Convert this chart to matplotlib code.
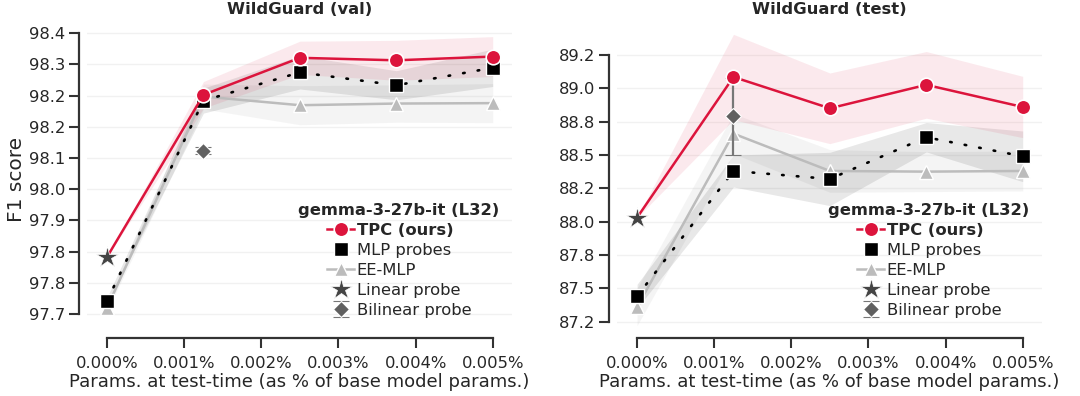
import matplotlib
matplotlib.use("Agg")
import matplotlib.pyplot as plt
from matplotlib.lines import Line2D

plt.rcParams['font.family'] = ['DejaVu Sans']
plt.rcParams['font.size'] = 11.8
plt.rcParams['text.color'] = '#262626'
plt.rcParams['axes.labelcolor'] = '#262626'
plt.rcParams['xtick.color'] = '#333333'
plt.rcParams['ytick.color'] = '#333333'
plt.rcParams['xtick.labelcolor'] = '#262626'
plt.rcParams['ytick.labelcolor'] = '#262626'

# params at test-time, % of base model params
x_pct = [0.0, 0.00125, 0.0025, 0.00375, 0.005]
x_ticks = [0.0, 0.001, 0.002, 0.003, 0.004, 0.005]

# WildGuard (val)
tpc_val = [97.837, 98.227, 98.316, 98.310, 98.319]
tpc_val_sd = [0.0, 0.032, 0.040, 0.048, 0.048]
mlp_val = [97.732, 98.213, 98.281, 98.250, 98.292]
mlp_val_sd = [0.008, 0.030, 0.040, 0.035, 0.045]
ee_val = [97.715, 98.223, 98.202, 98.206, 98.207]
ee_val_sd = [0.008, 0.030, 0.047, 0.045, 0.047]
linear_val = 97.837
bilinear_val = 98.093
bilinear_val_err = 0.008
val_yticks = [97.7, 97.775, 97.85, 97.925, 98.0, 98.075, 98.15, 98.225, 98.3, 98.375]
val_ylabels = ["97.7", "97.8", "97.8", "97.9", "98.0", "98.1", "98.2", "98.2", "98.3", "98.4"]

# WildGuard (test)
tpc_test = [88.03, 89.085, 88.85, 89.026, 88.86]
tpc_test_sd = [0.0, 0.32, 0.265, 0.25, 0.23]
mlp_test = [87.44, 88.38, 88.32, 88.633, 88.49]
mlp_test_sd = [0.09, 0.12, 0.20, 0.11, 0.19]
ee_test = [87.36, 88.66, 88.38, 88.375, 88.38]
ee_test_sd = [0.14, 0.15, 0.16, 0.15, 0.15]
linear_test = 88.03
bilinear_test = 88.79
bilinear_test_err = 0.29
test_yticks = [87.25, 87.5, 87.75, 88.0, 88.25, 88.5, 88.75, 89.0, 89.25]
test_ylabels = ["87.2", "87.5", "87.8", "88.0", "88.2", "88.5", "88.8", "89.0", "89.2"]

RED = '#dc143c'
EE_GRAY = '#bcbcbc'

fig = plt.figure(figsize=(10.8, 3.96), dpi=100)
ax1 = fig.add_axes([87/1080, 1-330/396, 425/1080, 302/396])
ax2 = fig.add_axes([617/1080, 1-330/396, 425/1080, 302/396])


def draw(ax, tpc, tpc_sd, mlp, mlp_sd, ee, ee_sd, lin, bil, bil_err, yticks, ylabels, ylim, title):
    lo = lambda v, s: [a - b for a, b in zip(v, s)]
    hi = lambda v, s: [a + b for a, b in zip(v, s)]
    ax.fill_between(x_pct, lo(ee, ee_sd), hi(ee, ee_sd), color='#999999', alpha=0.1, lw=0, zorder=1)
    ax.fill_between(x_pct, lo(mlp, mlp_sd), hi(mlp, mlp_sd), color='black', alpha=0.09, lw=0, zorder=1)
    ax.fill_between(x_pct, lo(tpc, tpc_sd), hi(tpc, tpc_sd), color=RED, alpha=0.09, lw=0, zorder=1)

    ee_line, = ax.plot(x_pct, ee, color=EE_GRAY, lw=1.8, marker='^', ms=10,
                       mfc=EE_GRAY, mec='white', mew=1.0, zorder=3)
    ax.plot(x_pct, mlp, color='black', lw=1.9, ls=(0, (0.6, 5.0)), marker='s', ms=9.5,
            mfc='black', mec='white', mew=1.0, zorder=4, dash_capstyle='round')
    bil_h = ax.errorbar([x_pct[1]], [bil], yerr=[bil_err], fmt='D', ms=8.5, color='#606060',
                        ecolor='#777777', elinewidth=1.6, capsize=6, capthick=1.6,
                        mec='white', mew=0.8, zorder=5)
    tpc_line, = ax.plot(x_pct, tpc, color=RED, lw=1.8, marker='o', ms=10.5,
                        mfc=RED, mec='white', mew=1.2, zorder=6, markevery=[1, 2, 3, 4])
    lin_h, = ax.plot([x_pct[0]], [lin], ls='none', marker='*', ms=16, color='#444444',
                     mec='white', mew=0.5, zorder=7)
    mlp_h = Line2D([], [], ls='none', marker='s', ms=9.5, mfc='black', mec='white', mew=1.0)
    tpc_h = Line2D([], [], color=RED, lw=1.8, marker='o', ms=10.5, mfc=RED, mec='white', mew=1.2)

    ax.set_xlim(-0.00026, 0.00525)
    ax.set_ylim(*ylim)
    ax.set_xticks(x_ticks)
    ax.set_xticklabels([f"{v:.3f}%" for v in x_ticks])
    ax.set_yticks(yticks)
    ax.set_yticklabels(ylabels)
    ax.tick_params(length=7, width=1.5)
    ax.tick_params(axis='x', pad=6)
    ax.tick_params(axis='y', pad=3)
    ax.grid(axis='y', color='#f1f1f1', lw=1.0, zorder=0)
    ax.set_axisbelow(True)
    for s in ['top', 'right']:
        ax.spines[s].set_visible(False)
    for s in ['left', 'bottom']:
        ax.spines[s].set_color('#333333')
        ax.spines[s].set_linewidth(1.6)
        ax.spines[s].set_position(('outward', 5.5))
    ax.spines['left'].set_bounds(yticks[0], yticks[-1])
    ax.spines['bottom'].set_bounds(x_ticks[0], x_ticks[-1])
    ax.set_title(title, fontweight='bold', fontsize=11.8, pad=10)
    ax.set_xlabel('Params. at test-time (as % of base model params.)', fontsize=13, labelpad=2)

    leg = ax.legend([tpc_h, mlp_h, ee_line, lin_h, bil_h],
                    ['TPC (ours)', 'MLP probes', 'EE-MLP', 'Linear probe', 'Bilinear probe'],
                    loc='lower right', frameon=False, title='gemma-3-27b-it (L32)',
                    title_fontproperties={'weight': 'bold', 'size': 11.8},
                    handlelength=1.65, handletextpad=0.15, labelspacing=0.3,
                    borderpad=0.3, borderaxespad=0.45)
    leg.get_texts()[0].set_fontweight('bold')


draw(ax1, tpc_val, tpc_val_sd, mlp_val, mlp_val_sd, ee_val, ee_val_sd,
     linear_val, bilinear_val, bilinear_val_err, val_yticks, val_ylabels,
     (97.6614, 98.3877), 'WildGuard (val)')
draw(ax2, tpc_test, tpc_test_sd, mlp_test, mlp_test_sd, ee_test, ee_test_sd,
     linear_test, bilinear_test, bilinear_test_err, test_yticks, test_ylabels,
     (87.187, 89.4525), 'WildGuard (test)')
ax1.set_ylabel('F1 score', fontsize=14.5, labelpad=2)

fig.savefig('out.png', dpi=100)
